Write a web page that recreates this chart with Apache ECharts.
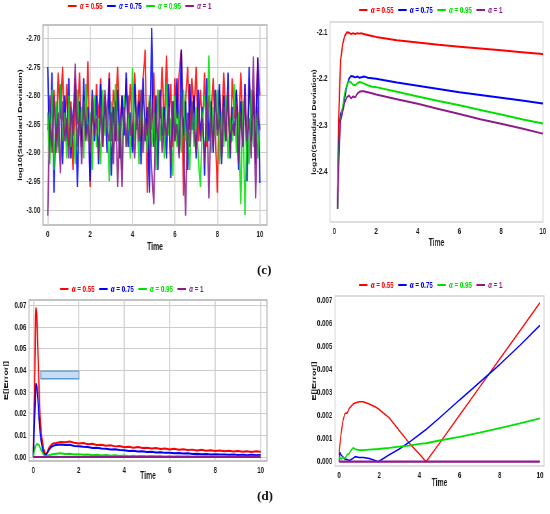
<!DOCTYPE html>
<html>
<head>
<meta charset="utf-8">
<script src="https://cdn.jsdelivr.net/npm/echarts@6/dist/echarts.min.js"></script>
<style>
html,body{margin:0;padding:0;background:#fff;overflow:hidden}
#wrap{width:550px;height:514px;overflow:hidden;position:relative}
#c{height:514px;transform-origin:0 0;position:absolute;left:0;top:0}
</style>
</head>
<body>
<div id="wrap"><div id="c"></div></div>
<script>
// ---------- names / colours ----------
const seriesNames = ['α = 0.55', 'α = 0.75', 'α = 0.95', 'α = 1'];
const seriesColors = ['#ff0000', '#0000ff', '#00e000', '#8b1a8b'];

// ---------- panel A: log10(Standard Deviation), noisy ----------
const tA = Array.from({length: 101}, (_, i) => +(i * 0.1).toFixed(1));
const redA = [-2.86,-2.80,-2.90,-2.79,-2.88,-2.76,-2.84,-2.75,-2.87,-2.78,
-2.89,-2.81,-2.93,-2.77,-2.85,-2.76,-2.88,-2.80,-2.86,-2.74,
-2.96,-2.82,-2.87,-2.78,-2.84,-2.77,-2.89,-2.80,-2.85,-2.76,
-2.88,-2.79,-2.83,-2.75,-2.87,-2.80,-2.86,-2.77,-2.84,-2.78,
-2.89,-2.76,-2.85,-2.79,-2.88,-2.77,-2.72,-2.97,-2.80,-2.86,
-2.76,-2.88,-2.79,-2.84,-2.75,-2.87,-2.73,-2.85,-2.78,-2.89,
-2.77,-2.84,-2.76,-2.72,-2.975,-2.81,-2.75,-2.86,-2.77,-2.83,
-2.75,-2.88,-2.79,-2.85,-2.76,-2.89,-2.80,-2.84,-2.77,-2.86,
-2.97,-2.79,-2.87,-2.76,-2.85,-2.80,-2.90,-2.77,-2.84,-2.79,
-2.88,-2.76,-2.86,-2.78,-2.89,-2.77,-2.84,-2.79,-2.87,-2.735,
-2.80];
const blueA = [-2.75,-2.90,-2.76,-2.97,-2.82,-2.89,-2.78,-2.92,-2.80,-2.88,
-2.77,-2.91,-2.83,-2.78,-2.96,-2.81,-2.89,-2.77,-2.87,-2.82,
-2.95,-2.79,-2.88,-2.80,-2.92,-2.78,-2.86,-2.81,-2.90,-2.77,
-2.94,-2.82,-2.88,-2.79,-2.91,-2.80,-2.87,-2.76,-2.89,-2.83,
-2.90,-2.78,-2.86,-2.81,-2.92,-2.77,-2.88,-2.82,-2.97,-2.682,
-2.89,-2.80,-2.93,-2.79,-2.87,-2.82,-2.91,-2.78,-2.944,-2.81,
-2.88,-2.77,-2.90,-2.72,-2.87,-2.81,-2.93,-2.78,-2.86,-2.80,
-2.91,-2.79,-2.87,-2.82,-2.94,-2.77,-2.88,-2.81,-2.90,-2.79,
-2.86,-2.78,-2.92,-2.80,-2.88,-2.76,-2.91,-2.82,-2.87,-2.79,
-2.93,-2.81,-2.89,-2.78,-2.95,-2.75,-2.88,-2.80,-2.92,-2.733,
-2.953];
const greenA = [-2.83,-2.92,-2.79,-2.93,-2.81,-2.90,-2.78,-2.88,-2.83,-2.91,
-2.80,-2.89,-2.84,-2.92,-2.79,-2.87,-2.82,-2.91,-2.78,-2.88,
-2.83,-2.93,-2.80,-2.89,-2.84,-2.92,-2.79,-2.87,-2.82,-2.95,
-2.81,-2.90,-2.78,-2.88,-2.84,-2.93,-2.80,-2.89,-2.83,-2.91,
-2.752,-2.88,-2.82,-2.92,-2.79,-2.87,-2.84,-2.90,-2.80,-2.89,
-2.83,-2.93,-2.79,-2.88,-2.82,-2.91,-2.78,-2.87,-2.84,-2.94,
-2.80,-2.89,-2.83,-2.90,-2.79,-2.88,-2.85,-2.93,-2.81,-2.89,
-2.82,-2.91,-2.96,-2.84,-2.80,-2.88,-2.73,-2.90,-2.82,-2.87,
-2.79,-2.92,-2.83,-2.89,-2.80,-2.91,-2.84,-2.88,-2.78,-2.90,
-2.83,-2.99,-2.81,-3.009,-2.84,-2.92,-2.79,-2.89,-2.83,-2.91,
-2.85];
const purpleA = [-3.01,-2.85,-2.89,-2.80,-2.90,-2.83,-2.936,-2.81,-2.88,-2.84,
-2.91,-2.82,-2.87,-2.744,-2.89,-2.83,-2.92,-2.81,-2.88,-2.85,
-2.90,-2.80,-2.87,-2.84,-2.91,-2.82,-2.89,-2.79,-2.86,-2.88,
-2.83,-2.92,-2.81,-2.96,-2.84,-2.96,-2.82,-2.89,-2.80,-2.87,
-2.85,-2.91,-2.82,-2.88,-2.79,-2.90,-2.84,-2.87,-2.81,-2.93,
-2.99,-2.83,-2.88,-2.80,-2.90,-2.84,-2.87,-2.82,-2.92,-2.81,
-2.88,-2.85,-2.91,-2.80,-2.87,-3.01,-2.83,-2.89,-2.81,-2.86,
-2.90,-2.82,-2.88,-2.84,-2.92,-2.81,-2.98,-2.83,-2.89,-2.80,
-2.87,-2.84,-2.91,-2.82,-2.88,-2.79,-2.90,-2.85,-2.87,-2.81,
-2.92,-2.83,-2.89,-2.80,-2.88,-2.84,-2.91,-2.732,-2.98,-2.82,
-2.86];
const yTicksA = [-3.00, -2.95, -2.90, -2.85, -2.80, -2.75, -2.70];

// ---------- panel B: log10(Standard Deviation), smooth ----------
const tB = [0.15,0.2,0.25,0.3,0.4,0.5,0.6,0.7,0.8,0.9,1.0,1.1,1.2,1.3,1.4,1.5,1.6,1.8,2,3,4,5,6,7,8,9,10];
const redB = [-2.48,-2.30,-2.22,-2.16,-2.125,-2.108,-2.100,-2.101,-2.104,-2.102,-2.104,-2.102,-2.103,-2.102,-2.104,-2.105,-2.106,-2.108,-2.110,-2.117,-2.122,-2.127,-2.131,-2.135,-2.139,-2.143,-2.147];
const blueB = [-2.48,-2.36,-2.30,-2.275,-2.265,-2.24,-2.215,-2.200,-2.194,-2.195,-2.197,-2.195,-2.198,-2.197,-2.195,-2.196,-2.198,-2.199,-2.200,-2.208,-2.215,-2.222,-2.229,-2.235,-2.241,-2.247,-2.253];
const greenB = [-2.48,-2.38,-2.31,-2.285,-2.26,-2.23,-2.213,-2.205,-2.208,-2.213,-2.214,-2.210,-2.207,-2.208,-2.210,-2.212,-2.214,-2.217,-2.218,-2.228,-2.238,-2.248,-2.257,-2.267,-2.277,-2.287,-2.296];
const purpleB = [-2.48,-2.40,-2.33,-2.29,-2.27,-2.25,-2.24,-2.236,-2.242,-2.238,-2.240,-2.232,-2.228,-2.227,-2.227,-2.228,-2.229,-2.231,-2.234,-2.244,-2.254,-2.265,-2.276,-2.287,-2.297,-2.307,-2.318];
const yTicksB = [-2.4, -2.3, -2.2, -2.1];

// ---------- panel C: E[|Error|], noisy ----------
const tC = [0,0.05,0.1,0.12,0.15,0.2,0.25,0.3,0.35,0.4,0.45,0.5,0.55,0.6,0.7,0.8,0.9,
1.0,1.2,1.4,1.6,1.8,2.0,2.2,2.4,2.6,2.8,3.0,3.2,3.4,3.6,3.8,4.0,4.2,4.4,4.6,4.8,
5.0,5.2,5.4,5.6,5.8,6.0,6.2,6.4,6.6,6.8,7.0,7.2,7.4,7.6,7.8,8.0,8.2,8.4,8.6,8.8,
9.0,9.2,9.4,9.6,9.8,10.0];
const redC = [0,0.03,0.065,0.069,0.066,0.05,0.032,0.018,0.011,0.007,0.004,0.002,0.0008,0.002,0.0045,0.0058,0.0064,
0.0065,0.0069,0.0068,0.0071,0.0066,0.0062,0.0065,0.0059,0.0061,0.0055,
0.0057,0.0052,0.0054,0.0049,0.0051,0.0045,0.0047,0.0043,0.0046,0.0041,
0.0043,0.0039,0.0042,0.0037,0.0039,0.0035,0.0038,0.0033,0.0036,0.0032,
0.0034,0.0030,0.0033,0.0029,0.0031,0.0028,0.0030,0.0027,0.0029,0.0025,
0.0028,0.0024,0.0027,0.0023,0.0026,0.0024];
const blueC = [0,0.015,0.032,0.034,0.033,0.027,0.018,0.011,0.007,0.004,0.002,0.001,0.0002,0.0015,0.0035,0.0047,0.0053,
0.0055,0.0058,0.0055,0.0056,0.0051,0.0050,0.0047,0.0046,0.0042,0.0043,
0.0039,0.0038,0.0035,0.0036,0.0032,0.0031,0.0028,0.0029,0.0025,0.0026,
0.0023,0.0024,0.0021,0.0022,0.0019,0.0020,0.0017,0.0018,0.0016,0.0017,
0.0014,0.0015,0.0013,0.0014,0.0012,0.0013,0.0011,0.0012,0.0010,0.0011,
0.0009,0.0010,0.0008,0.0010,0.0008,0.0009];
const greenC = [0,0.003,0.005,0.0055,0.006,0.0062,0.0055,0.0042,0.003,0.002,0.0012,0.0005,0.0001,0.0004,0.0008,0.0012,0.0014,
0.0015,0.0017,0.0014,0.0015,0.0012,0.0013,0.0010,0.0011,0.0008,0.0010,
0.0007,0.0009,0.0006,0.0008,0.0005,0.0007,0.0004,0.0006,0.0004,0.0005,
0.0003,0.0005,0.0003,0.0004,0.0002,0.0004,0.0002,0.0003,0.0002,0.0003,
0.0001,0.0003,0.0002,0.0003,0.0001,0.0002,0.0001,0.0003,0.0001,0.0002,
0.0001,0.0002,0.0001,0.0002,0.0001,0.0002];
const purpleC = tC.map(() => 0);
const yTicksC = [0, 0.01, 0.02, 0.03, 0.04, 0.05, 0.06, 0.07];
const boxC = [0.33, 2.01, 0.0361, 0.0396]; // x0, x1, y0, y1 of the blue rectangle

// ---------- panel D: E[|Error|], smooth ----------
const tD = [0,0.05,0.1,0.2,0.3,0.4,0.5,0.6,0.7,0.8,1.0,1.2,1.5,1.8,1.95,2.0,2.5,3.0,3.5,4.0,4.33,5,6,7,8,9,10];
const redD = [0.0003,0.0008,0.0012,0.0018,0.0021,0.0021,0.0023,0.0024,0.0025,0.00255,0.0026,0.0026,0.0025,0.00238,0.0023,0.00226,0.0019,0.00135,0.0008,0.00033,0,0.0008,0.00202,0.00324,0.00446,0.00568,0.0069];
const blueD = [0,0.0004,0.0003,0.0002,0.0001,0.0001,0.00005,0.0001,0.00015,0.00022,0.00018,0.00018,0.00014,0.00005,0,0.00002,0.0003,0.00055,0.00085,0.00118,0.0014,0.0019,0.00268,0.00345,0.00422,0.00505,0.00592];
const greenD = [0.0001,0.0002,0.0001,0.0002,0.00015,0.0003,0.00035,0.0005,0.0006,0.00055,0.0005,0.0005,0.00052,0.00054,0.00055,0.00055,0.0006,0.00065,0.0007,0.00077,0.0008,0.00092,0.00108,0.00126,0.00146,0.00166,0.00188];
const purpleD = tD.map(() => 0);
const yTicksD = [0, 0.001, 0.002, 0.003, 0.004, 0.005, 0.006, 0.007];

const xTicks = [0, 2, 4, 6, 8, 10];

// ---------- layout helpers (figure is horizontally condensed like the source) ----------
const K = 0.65;                 // horizontal squeeze of the whole figure
const X = px => px / K;          // convert on-screen x pixels to chart pixels
const el = document.getElementById('c');
el.style.width = X(550) + 'px';
el.style.transform = 'scaleX(' + K + ')';

const FONT = '"Liberation Sans", Arial, sans-serif';
const INK = '#1a1a1a';
const zip = (t, v) => t.map((x, i) => [x, v[i]]);

function xAxis(idx, min, max, nameGap, grid) {
  return {
    type: 'value', gridIndex: idx, min, max,
    name: 'Time', nameLocation: 'middle', nameGap, nameMoveOverlap: false,
    nameTextStyle: {fontFamily: FONT, fontSize: 10.5, fontWeight: 'bold', color: INK},
    axisLine: {show: false},
    axisTick: {show: false, customValues: xTicks},
    axisLabel: {customValues: xTicks, fontFamily: FONT, fontSize: 9.5, fontWeight: 'bold', color: INK, margin: 4},
    splitLine: {show: grid, lineStyle: {color: '#cccccc', width: 1.5}}
  };
}
function yAxis(idx, min, max, ticks, dec, name, nameGap, nameSize, grid) {
  return {
    type: 'value', gridIndex: idx, min, max,
    name, nameLocation: 'middle', nameGap, nameMoveOverlap: false,
    nameTextStyle: {fontFamily: FONT, fontSize: nameSize, fontWeight: 'bold', color: INK},
    axisLine: {show: false},
    axisTick: {show: false, customValues: ticks},
    axisLabel: {customValues: ticks, formatter: v => v.toFixed(dec), fontFamily: FONT, fontSize: 9.5, fontWeight: 'bold', color: INK, margin: 4},
    splitLine: {show: grid, lineStyle: {color: '#cccccc', width: 1}}
  };
}
function legend(left, top) {
  return {
    left: X(left), top, padding: 0, itemWidth: X(8.5), itemHeight: 2, itemGap: X(4.5), icon: 'rect', selectedMode: false,
    data: seriesNames.map((n, i) => ({name: n, itemStyle: {color: seriesColors[i]},
      textStyle: {color: seriesColors[i]}})),
    formatter: n => '{i|α}{n|' + n.slice(1) + '}',
    textStyle: {fontFamily: FONT, fontSize: 9.5, fontWeight: 'bold', padding: [0, 0, 0, 0],
      rich: {i: {fontStyle: 'italic', fontSize: 9.5, fontWeight: 'bold', fontFamily: FONT}, n: {fontSize: 9.5, fontWeight: 'bold', fontFamily: FONT}}}
  };
}
function lines(idx, t, arrs, widths, opacity) {
  return arrs.map((a, i) => ({
    type: 'line', name: seriesNames[i], xAxisIndex: idx, yAxisIndex: idx,
    data: zip(t, a), showSymbol: false, symbol: 'none', animation: false,
    color: seriesColors[i],
    lineStyle: {width: widths[i], color: seriesColors[i], opacity: opacity}
  }));
}

const seriesAll = [].concat(
  lines(0, tA, [redA, blueA, greenA, purpleA], [2.2, 2.2, 2.2, 2.2], 0.85),
  lines(1, tB, [redB, blueB, greenB, purpleB], [2, 2, 2, 2], 1),
  lines(2, tC, [redC, blueC, greenC, purpleC], [2, 2, 2, 2], 1),
  lines(3, tD, [redD, blueD, greenD, purpleD], [1.6, 1.6, 1.8, 2.2], 1)
);
// rectangle in panel C
seriesAll.push({
  type: 'line', xAxisIndex: 2, yAxisIndex: 2, data: [], silent: true,
  markArea: {silent: true, itemStyle: {color: 'rgba(190,215,240,0.85)', borderColor: '#5b9bd5', borderWidth: 1.3},
    data: [[{coord: [boxC[0], boxC[3]]}, {coord: [boxC[1], boxC[2]]}]]}
});

const option = {
  backgroundColor: '#fff',
  animation: false,
  legend: [legend(68, 1), legend(359, 5), legend(60, 284), legend(359, 280)],
  grid: [
    {left: X(43), top: 25, width: X(224), height: 200, show: true, borderColor: '#b0b0b0', borderWidth: 1.5},
    {left: X(330), top: 22, width: X(213), height: 200, show: true, borderColor: '#d4d4d4', borderWidth: 1.5},
    {left: X(29), top: 300, width: X(238), height: 161, show: true, borderColor: '#b0b0b0', borderWidth: 1.5},
    {left: X(335), top: 296, width: X(209), height: 170, show: true, borderColor: '#d4d4d4', borderWidth: 1.5}
  ],
  xAxis: [
    xAxis(0, -0.22, 10.34, 17, true),
    xAxis(1, -0.21, 10.01, 16, false),
    xAxis(2, -0.19, 10.28, 10, true),
    xAxis(3, -0.2, 10.2, 12, false)
  ],
  yAxis: [
    yAxis(0, -3.0264, -2.6767, yTicksA, 2, 'log10(Standard Deviation)', 30, 9, true),
    yAxis(1, -2.508, -2.078, yTicksB, 1, 'log10(Standard Deviation)', 20, 8.5, false),
    yAxis(2, -0.00185, 0.07245, yTicksC, 2, 'E[|Error|]', 31, 9, true),
    yAxis(3, -0.000187, 0.00719, yTicksD, 3, 'E[|Error|]', 27, 9, false)
  ],
  graphic: [
    {type: 'text', x: X(257), y: 264, scaleX: 1 / K, style: {text: '(c)', font: 'bold 13px "Liberation Serif", serif', fill: '#111'}},
    {type: 'text', x: X(257), y: 490, scaleX: 1 / K, style: {text: '(d)', font: 'bold 13px "Liberation Serif", serif', fill: '#111'}}
  ],
  series: seriesAll
};

const chart = echarts.init(el, null, {renderer: 'canvas'});
chart.setOption(option);
</script>
</body>
</html>
